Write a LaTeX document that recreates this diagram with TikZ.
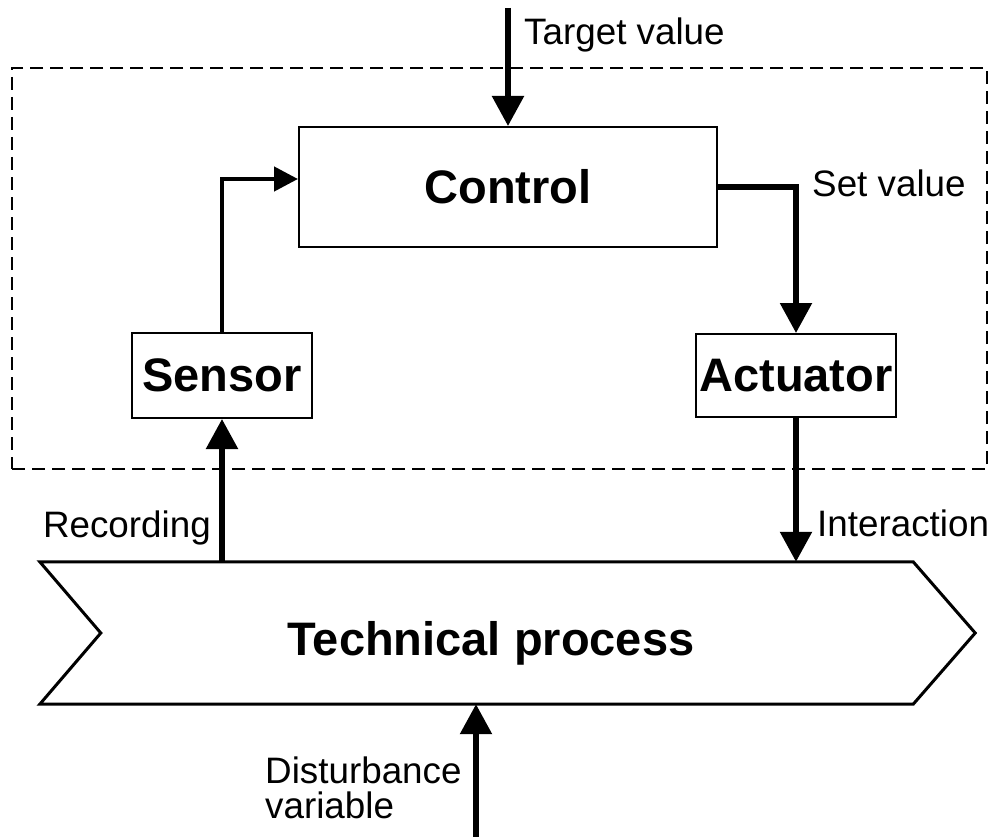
\documentclass[tikz,border=0pt]{standalone}
\usepackage{fontspec}
\setmainfont{Liberation Sans}
\usetikzlibrary{arrows.meta}

\tikzset{
  box/.style={draw, line width=2pt, rectangle, inner sep=0pt},
  boxlabel/.style={font=\fontsize{47}{50}\selectfont\bfseries},
  lbl/.style={font=\fontsize{36.8}{35}\selectfont, inner sep=0pt},
  bigarrow/.style={line width=5.5pt, -{Triangle[width=31pt,length=30pt]}},
  smallarrow/.style={line width=4.5pt, -{Triangle[width=24pt,length=24pt]}},
  frame/.style={draw, line width=2pt, dash pattern=on 13pt off 7pt, rectangle, inner sep=0pt},
  chevron/.style={line width=3pt, line join=miter},
}

\begin{document}
\begin{tikzpicture}[x=1pt, y=-1pt]
  \useasboundingbox (0,0) rectangle (995,837);

  % control system boundary
  \node[frame, minimum width=975pt, minimum height=401pt] (system) at (499.5,268.5) {};

  % blocks
  \node[box, boxlabel, minimum width=418pt, minimum height=120pt] (ctrl) at (508,187) {Control};
  \node[box, boxlabel, minimum width=180pt, minimum height=85pt] (sensor) at (222,375.5) {Sensor};
  \node[box, boxlabel, minimum width=200pt, minimum height=83pt] (act) at (796,375.5) {Actuator};

  % technical process (chevron outline around an invisible area)
  \node[minimum width=873pt, minimum height=142pt, inner sep=0pt] (proc) at (476.5,633) {};
  \draw[chevron] (proc.north west) -- (proc.north east) -- ([xshift=62pt]proc.east)
     -- (proc.south east) -- (proc.south west) -- ([xshift=61pt]proc.west) -- cycle;
  \node[boxlabel, inner sep=0pt, anchor=base] (proctext) at (491,655) {Technical process};

  % free ends of the outer signals
  \coordinate (tv) at (508,8);
  \coordinate (dist) at (476,837);

  % signal flow
  \draw[bigarrow] (tv) -- (ctrl.north -| tv);
  \draw[bigarrow, line join=miter] (ctrl.east) -| (act.north);
  \draw[smallarrow, line join=miter] (sensor.north) |- ([yshift=8pt]ctrl.west);
  \draw[bigarrow] (proc.north -| sensor) -- (sensor.south);
  \draw[bigarrow] (act.south) -- (proc.north -| act);
  \draw[bigarrow] (dist) -- (proc.south -| dist);

  % labels
  \node[lbl, anchor=west] (ltv) at (524,35) {Target value};
  \node[lbl, anchor=west] (lsv) at (812,183) {Set value};
  \node[lbl, anchor=east] (lrec) at (211,528) {Recording};
  \node[lbl, anchor=west] (lint) at (817,523) {Interaction};
  \node[lbl, anchor=north west, align=left] (ldist) at (265,757) {Disturbance\\variable};
\end{tikzpicture}
\end{document}
